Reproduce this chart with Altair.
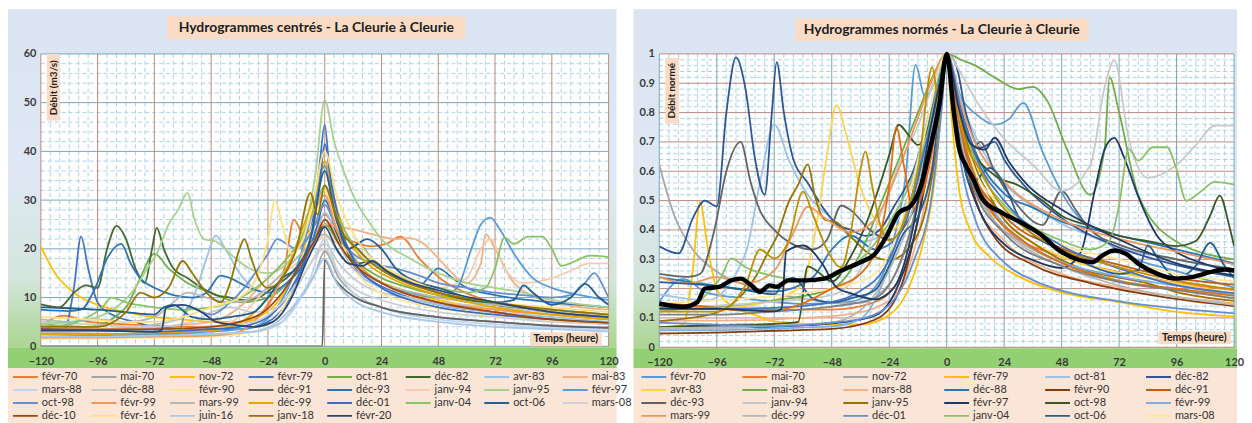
import altair as alt

FONT = "Lato"

# ---------------- tick labels / categories ----------------
HOUR_TICKS = [-120, -96, -72, -48, -24, 0, 24, 48, 72, 96, 120]
Q_TICKS = [0, 10, 20, 30, 40, 50, 60]
N_TICKS = [0, 0.1, 0.2, 0.3, 0.4, 0.5, 0.6, 0.7, 0.8, 0.9, 1]

NAMES = ["févr-70", "mai-70", "nov-72", "févr-79", "oct-81", "déc-82", "avr-83", "mai-83",
         "mars-88", "déc-88", "févr-90", "déc-91", "déc-93", "janv-94", "janv-95", "févr-97",
         "oct-98", "févr-99", "mars-99", "déc-99", "déc-01", "janv-04", "oct-06", "mars-08",
         "déc-10", "févr-16", "juin-16", "janv-18", "févr-20"]

COLORS_LEFT = ["#ED7D31", "#A5A5A5", "#FFC000", "#4472C4", "#70AD47", "#43682B", "#9DC3E6", "#F4B183",
               "#BDD7EE", "#C9C9C9", "#FFE699", "#636363", "#2E75B6", "#F8CBAD", "#A9D18E", "#5B9BD5",
               "#698ED0", "#F1975A", "#B7B7B7", "#E3A800", "#3C6BC0", "#8CC168", "#255E91", "#D0D0D0",
               "#9E480E", "#FFE07F", "#A9C8EB", "#997300", "#264478"]

COLORS_RIGHT = ["#5B9BD5", "#ED7D31", "#A5A5A5", "#FFC000", "#9DC3E6", "#2F5597", "#FFD34D", "#70AD47",
                "#F4B183", "#2E75B6", "#843C0C", "#C55A11", "#636363", "#C9C9C9", "#997300", "#1F3864",
                "#385723", "#7CAFDD", "#F1975A", "#B7B7B7", "#698ED0", "#8CC168", "#255E91", "#FFE699",
                "#4472C4", "#E46C0A", "#7F7F7F", "#BF9000", "#203864"]

# ---------------- hydrographs (hour, m3/s) ----------------
FEVR_70 = [[-120, 4.2], [-110, 6.3], [-100, 5.0], [-84, 4.5], [-60, 4.0], [-40, 4.2], [-30, 5.5], [-22, 10], [-17, 16], [-13, 26], [-9, 23], [-4, 25], [0, 27], [6, 23], [12, 21.5], [20, 20.5], [26, 21], [32, 22.5], [40, 18], [50, 13.5], [62, 10.5], [75, 8.5], [96, 7], [120, 5.5]]
MAI_70 = [[-120, 2.8], [-96, 2.6], [-72, 2.5], [-48, 2.5], [-30, 3], [-18, 5], [-10, 10], [-4, 15], [0, 19.5], [6, 14], [12, 11], [24, 8], [48, 6], [72, 5], [96, 4.3], [120, 3.8]]
NOV_72 = [[-120, 20.5], [-114, 15], [-106, 11], [-96, 8.5], [-84, 7], [-72, 6], [-60, 5.5], [-48, 5], [-36, 5], [-28, 6], [-20, 9], [-12, 16], [-6, 24], [-2, 30], [0, 33], [4, 27], [10, 20], [18, 15], [30, 12], [48, 9.5], [72, 7.5], [96, 6.5], [120, 5.5]]
FEVR_79 = [[-120, 3], [-110, 3.5], [-106, 12], [-103, 22.5], [-100, 16], [-96, 9], [-90, 6.5], [-80, 5], [-72, 4], [-48, 3.5], [-36, 3.5], [-24, 5], [-16, 9], [-10, 16], [-5, 26], [-2, 38], [0, 45.5], [2, 36], [5, 25], [10, 18], [18, 14], [30, 11], [48, 8.5], [72, 7], [96, 5.5], [120, 4.8]]
OCT_81 = [[-120, 4.5], [-100, 4], [-84, 8], [-78, 14], [-72, 19], [-66, 16], [-58, 13], [-48, 11], [-36, 9], [-24, 10], [-14, 14], [-6, 20], [0, 25], [6, 21], [12, 18], [24, 14], [36, 12], [48, 10.5], [60, 9.5], [72, 8.5], [96, 7.5], [120, 6.5]]
DEC_82 = [[-120, 8.6], [-112, 8], [-106, 11], [-101, 12.5], [-96, 12], [-92, 20], [-88, 24.7], [-84, 22], [-80, 16], [-76, 13], [-73, 20], [-71, 24.3], [-68, 20], [-64, 16], [-58, 14], [-52, 12], [-46, 10.5], [-40, 10], [-34, 9.5], [-28, 10], [-22, 12], [-14, 15], [-8, 19], [-3, 23], [0, 25], [4, 24], [8, 20], [14, 17], [20, 17.5], [24, 16], [36, 13], [48, 11], [72, 8.5], [96, 7], [120, 6]]
AVR_83 = [[-120, 3.5], [-96, 3.6], [-80, 4], [-66, 5], [-60, 6], [-54, 12], [-50, 18], [-46, 22.7], [-42, 20], [-36, 15], [-30, 12], [-24, 11], [-16, 13], [-8, 19], [-3, 24], [0, 27.5], [6, 21], [12, 16], [24, 12], [48, 8.5], [72, 7], [96, 6], [120, 5]]
MAI_83 = [[-120, 3.5], [-96, 3.5], [-72, 4], [-48, 5], [-36, 8], [-28, 12], [-20, 16], [-12, 20], [-6, 23], [0, 25], [6, 24.5], [12, 24], [20, 23], [30, 22], [36, 22.2], [42, 21], [50, 17], [60, 13], [66, 17], [68, 23], [72, 20], [80, 13], [96, 9], [120, 7.5]]
MARS_88 = [[-120, 2], [-96, 2], [-60, 2.2], [-40, 2.5], [-24, 3.5], [-14, 7], [-6, 14], [0, 22], [5, 16], [12, 11], [24, 8], [48, 5.5], [72, 4.5], [96, 3.8], [120, 3.3]]
DEC_88 = [[-120, 5], [-100, 4.5], [-72, 4], [-56, 5], [-48, 7], [-40, 8], [-30, 7], [-20, 8], [-12, 12], [-6, 17], [0, 21], [6, 17], [12, 14], [24, 11], [36, 10], [48, 9], [60, 8.5], [72, 8], [96, 7], [120, 6]]
FEVR_90 = [[-120, 1.5], [-96, 1.6], [-72, 1.8], [-48, 2], [-30, 3], [-20, 6], [-12, 14], [-5, 25], [0, 32], [4, 26], [10, 18], [20, 12], [36, 9], [60, 7], [90, 5.5], [120, 4.5]]
DEC_91 = [[-120, 0], [-60, 0], [-1, 0], [0, 17.8], [4, 14], [10, 11], [24, 8], [48, 6], [72, 5], [96, 4.2], [120, 3.8]]
DEC_93 = [[-120, 7.5], [-108, 7.2], [-103, 7.5], [-97, 12], [-92, 18], [-86, 21], [-82, 17], [-78, 14], [-72, 12], [-64, 10.5], [-56, 10], [-50, 11], [-44, 14.5], [-40, 14], [-32, 12], [-24, 11], [-16, 13], [-8, 18], [-3, 25], [0, 30], [5, 24], [10, 20], [14, 21], [20, 18], [28, 15], [40, 12.5], [48, 16], [54, 14], [60, 12], [72, 10.5], [96, 9], [120, 8]]
JANV_94 = [[-120, 3], [-96, 3.2], [-72, 3.5], [-48, 4], [-36, 6], [-28, 10], [-20, 14], [-12, 17], [-6, 20], [0, 22.5], [6, 21], [12, 19], [24, 16], [36, 14], [48, 12], [60, 14], [66, 20], [70, 22], [76, 16], [84, 13], [96, 14], [104, 15.5], [112, 17], [120, 17]]
JANV_95 = [[-120, 4.5], [-108, 5], [-96, 6], [-88, 8], [-80, 12], [-75, 16], [-71, 19], [-66, 25], [-62, 28], [-58, 31.5], [-55, 26], [-51, 22], [-46, 21.5], [-40, 19], [-32, 16], [-24, 15], [-16, 17], [-8, 25], [-4, 35], [0, 50.5], [4, 42], [8, 36], [13, 30], [18, 26], [24, 22], [36, 18], [48, 15], [60, 13], [72, 12], [84, 11], [96, 9.5], [120, 8]]
FEVR_97 = [[-120, 2.5], [-96, 2.5], [-72, 2.6], [-48, 3], [-30, 4], [-20, 8], [-12, 16], [-6, 26], [0, 37], [4, 28], [8, 22], [14, 17], [24, 13], [36, 11], [48, 10], [56, 12], [62, 20], [66, 25], [70, 26.4], [74, 24], [80, 19], [88, 14], [96, 12], [108, 10.5], [120, 9.5]]
OCT_98 = [[-120, 2], [-96, 2.2], [-72, 2.3], [-62, 2.5], [-58, 8], [-54, 7.5], [-48, 6.5], [-40, 9], [-34, 12], [-28, 16], [-24, 19], [-20, 22], [-16, 21], [-12, 20], [-6, 23], [0, 29], [5, 24], [10, 20], [20, 17], [30, 16], [40, 14.5], [48, 13], [60, 12], [72, 11], [84, 10.5], [96, 10], [104, 10.5], [110, 13], [114, 15], [118, 12], [120, 10]]
FEVR_99 = [[-120, 1.8], [-96, 1.8], [-72, 2], [-48, 2.2], [-36, 3], [-28, 6], [-20, 12], [-12, 20], [-6, 26], [0, 31], [5, 24], [12, 18], [24, 13], [36, 10.5], [48, 9], [72, 7.5], [96, 6.5], [120, 5.5]]
MARS_99 = [[-120, 5.5], [-108, 5], [-96, 5.5], [-84, 5], [-72, 6], [-64, 9], [-58, 11], [-50, 10], [-40, 9], [-30, 10], [-20, 14], [-12, 18], [-6, 21], [0, 23], [6, 19], [12, 16], [24, 13], [48, 10], [72, 8.5], [96, 7.5], [120, 6.5]]
DEC_99 = [[-120, 2.5], [-96, 2.5], [-72, 2.8], [-48, 3.2], [-40, 4], [-32, 6], [-24, 10], [-16, 16], [-8, 26], [-3, 33], [0, 38], [4, 30], [10, 22], [18, 17], [30, 13.5], [48, 10.5], [72, 8], [96, 6.5], [120, 5.5]]
DEC_01 = [[-120, 3.5], [-96, 3.2], [-72, 3], [-48, 3.5], [-36, 4], [-24, 6], [-14, 12], [-6, 22], [-2, 34], [0, 41.5], [3, 33], [7, 24], [12, 18], [24, 12], [36, 9.5], [48, 8], [72, 6.5], [96, 5.5], [120, 4.8]]
JANV_04 = [[-120, 4], [-108, 4.5], [-100, 6], [-94, 8], [-90, 10], [-84, 9], [-72, 8], [-60, 7.5], [-48, 8], [-40, 9], [-32, 11], [-24, 14], [-16, 18], [-8, 24], [-3, 30], [0, 33], [5, 27], [12, 21], [24, 16], [36, 13.5], [48, 12], [60, 11], [68, 12], [72, 16], [76, 22.3], [80, 21], [86, 22.5], [92, 22.5], [96, 20], [100, 16.5], [106, 17.5], [112, 18.6], [120, 18.3]]
OCT_06 = [[-120, 8], [-108, 7.8], [-96, 7.5], [-84, 7], [-72, 6.5], [-68, 8], [-64, 8.5], [-56, 6], [-48, 5.5], [-40, 6], [-30, 7], [-24, 10], [-18, 14], [-12, 16], [-6, 22], [0, 36], [4, 28], [10, 20], [18, 22], [24, 20], [30, 16], [40, 13], [48, 12], [60, 10], [72, 9], [80, 9.5], [84, 12.5], [88, 11], [96, 8.5], [104, 10], [110, 12.8], [116, 10], [120, 8.5]]
MARS_08 = [[-120, 3], [-96, 3.2], [-72, 3.5], [-48, 4], [-30, 5], [-20, 8], [-10, 14], [0, 20], [6, 15], [12, 12], [24, 9.5], [48, 7], [72, 6], [96, 5], [120, 4.5]]
DEC_10 = [[-120, 3.5], [-96, 3.4], [-72, 3.5], [-48, 4], [-36, 5], [-26, 7], [-18, 11], [-10, 17], [-4, 22], [0, 26], [6, 21], [12, 17], [24, 13], [48, 9], [72, 7], [96, 5.5], [120, 4.8]]
FEVR_16 = [[-120, 6], [-100, 5.5], [-84, 5], [-72, 5], [-60, 6], [-48, 8], [-36, 10], [-28, 15], [-24, 22], [-21, 30], [-18, 25], [-14, 19], [-10, 21], [-5, 29], [0, 40], [5, 31], [10, 25], [18, 19], [30, 15], [48, 11.5], [72, 9], [96, 8], [120, 7]]
JUIN_16 = [[-120, 2], [-96, 2], [-72, 2.2], [-48, 2.5], [-30, 3], [-20, 5], [-12, 9], [-5, 14], [0, 18], [5, 13], [12, 9.5], [24, 7], [48, 5], [72, 4], [96, 3.5], [120, 3]]
JANV_18 = [[-120, 4], [-96, 4], [-84, 7], [-78, 11], [-72, 10], [-66, 12], [-60, 17.5], [-56, 15], [-50, 11], [-44, 9], [-40, 13], [-36, 20], [-34, 22], [-31, 18], [-28, 14], [-24, 12], [-18, 14], [-12, 20], [-6, 31.5], [-3, 27], [0, 33], [4, 28], [8, 23], [14, 20], [20, 17], [30, 14], [48, 11], [72, 9], [96, 7.5], [120, 6.5]]
FEVR_20 = [[-120, 3.2], [-96, 3.2], [-72, 3], [-69, 3.2], [-67, 8], [-60, 8.5], [-52, 7], [-46, 5], [-40, 4.5], [-30, 4], [-22, 5], [-14, 10], [-8, 17], [-3, 22], [0, 24.5], [5, 20], [10, 17], [16, 16.5], [20, 17.5], [26, 15.5], [34, 13.5], [48, 11.5], [72, 9], [96, 7], [120, 6]]

SERIES = [FEVR_70, MAI_70, NOV_72, FEVR_79, OCT_81, DEC_82, AVR_83, MAI_83, MARS_88, DEC_88,
          FEVR_90, DEC_91, DEC_93, JANV_94, JANV_95, FEVR_97, OCT_98, FEVR_99, MARS_99, DEC_99,
          DEC_01, JANV_04, OCT_06, MARS_08, DEC_10, FEVR_16, JUIN_16, JANV_18, FEVR_20]

# mean normalised hydrograph (black line)
MEAN_T = [-120, -110, -104, -101, -95, -90, -86, -82, -78, -74, -71, -66, -59, -51, -44, -36, -30, -25, -20, -15, -11, -7, -3, 0, 3, 5, 8, 11, 15, 23, 31, 39, 47, 56, 61, 65, 70, 75, 80, 88, 96, 103, 110, 116, 120]
MEAN_Q = [0.149, 0.138, 0.155, 0.2, 0.206, 0.228, 0.234, 0.214, 0.189, 0.211, 0.206, 0.228, 0.228, 0.234, 0.262, 0.29, 0.318, 0.38, 0.459, 0.482, 0.544, 0.675, 0.83, 1.0, 0.8, 0.685, 0.62, 0.575, 0.504, 0.459, 0.425, 0.386, 0.33, 0.296, 0.29, 0.313, 0.33, 0.318, 0.285, 0.25, 0.234, 0.24, 0.256, 0.265, 0.262]

ROWS = [{"serie": n, "t": p[0], "q": p[1]} for n, s in zip(NAMES, SERIES) for p in s]
MEAN_ROWS = [{"t": t, "m": m} for t, m in zip(MEAN_T, MEAN_Q)]

# ---------------- layout / styling ----------------
W1, H1 = 571, 294
W2, H2 = 578, 295
TOP = 45
GRID_MINOR = "#a9d3e8"
RED_GRID = "#b98a80"
TEAL_GRID = "#7aa7b9"
BG_STOPS = [alt.GradientStop(color="#dae4f2", offset=0),
            alt.GradientStop(color="#dfe8f4", offset=0.5),
            alt.GradientStop(color="#d3e5dc", offset=0.8),
            alt.GradientStop(color="#abd690", offset=1)]
GREEN = "#93cf73"
PEACH = "#fbe5d6"
TITLE_PEACH = "#fadcc6"

XS = alt.Scale(domain=[-120, 120], nice=False, zero=False)
YS1 = alt.Scale(domain=[0, 60], nice=False)
YS2 = alt.Scale(domain=[0, 1], nice=False)


def x_axis():
    return alt.Axis(values=HOUR_TICKS, title=None, grid=False, domain=False, ticks=False, tickSize=0,
                    labelPadding=9, labelFont=FONT, labelFontSize=11, labelFontWeight="bold",
                    labelColor="#3a3a3a", labelFlush=False, labelOverlap=False, zindex=1)


def y_axis(vals, fmt):
    return alt.Axis(values=vals, title=None, grid=False, domain=False, ticks=False, tickSize=0,
                    labelPadding=5, labelFont=FONT, labelFontSize=11, labelFontWeight="bold",
                    labelColor="#3a3a3a", labelFlush=False, labelOverlap=False, format=fmt, zindex=1)


AX_Y1 = y_axis(Q_TICKS, "d")
AX_Y2 = y_axis(N_TICKS, "~g")


def one():
    return alt.Data(values=[{"k": 1}])


def box(x0, x1, y0, y1, fill, **kw):
    return alt.Chart(one()).mark_rect(fill=fill, **kw).encode(
        x=alt.value(x0), x2=alt.value(x1), y=alt.value(y0), y2=alt.value(y1))


def label(txt, x, y, size, angle=0):
    return alt.Chart(one()).mark_text(
        text=txt, font=FONT, fontSize=size, fontWeight="bold", color="#1e1e1e",
        angle=angle, align="center", baseline="middle").encode(x=alt.value(x), y=alt.value(y))


def vrules(vals, color, dashed=False):
    kw = {"strokeDash": [4, 3]} if dashed else {}
    return alt.Chart(alt.Data(values=[{"t": v} for v in vals])).mark_rule(
        color=color, strokeWidth=1, **kw).encode(x=alt.X("t:Q", scale=XS, axis=x_axis()))


def hrules(vals, color, yscale, yaxis, dashed=False):
    kw = {"strokeDash": [4, 3]} if dashed else {}
    return alt.Chart(alt.Data(values=[{"q": v} for v in vals])).mark_rule(
        color=color, strokeWidth=1, **kw).encode(y=alt.Y("q:Q", scale=yscale, axis=yaxis))


def legend(x, y, cols, colpad, values):
    return alt.Legend(orient="none", legendX=x, legendY=y, columns=cols, direction="horizontal",
                      symbolType="stroke", symbolSize=625, symbolStrokeWidth=2, clipHeight=13,
                      rowPadding=0, columnPadding=colpad, gridAlign="all", labelFont=FONT,
                      labelFontSize=11, labelColor="#333333", labelOffset=3, padding=0,
                      labelLimit=90, values=values)


# ---------------- left panel: centred hydrographs ----------------
minor_x = [v for v in range(-120, 121, 4) if v % 24 != 0]
minor_y1 = [v for v in range(0, 61, 2) if v % 10 != 0]

lines_left = alt.Chart(alt.Data(values=ROWS)).mark_line(
    strokeWidth=1.8, interpolate="monotone", clip=True).encode(
    x=alt.X("t:Q", scale=XS, axis=x_axis()),
    y=alt.Y("q:Q", scale=YS1, axis=AX_Y1),
    color=alt.Color("serie:N", title=None, scale=alt.Scale(domain=NAMES, range=COLORS_LEFT),
                    legend=legend(-29, H1 + 24.5, 8, 8, NAMES)),
)

left = alt.layer(
    box(-33, W1 + 8, -TOP, H1 + 1, alt.LinearGradient(gradient="linear", stops=BG_STOPS, x1=0, x2=0, y1=0, y2=1)),
    box(-33, W1 + 8, H1 + 1, H1 + 22, GREEN),
    box(-33, W1 + 8, H1 + 22, H1 + 80, PEACH),
    box(0, W1, 0, H1, "#ffffff"),
    vrules(minor_x, GRID_MINOR, True),
    hrules(minor_y1, GRID_MINOR, YS1, AX_Y1, True),
    vrules(HOUR_TICKS, RED_GRID),
    hrules(Q_TICKS, TEAL_GRID, YS1, AX_Y1),
    lines_left,
    box(127, 427, -38, -15, TITLE_PEACH),
    label("Hydrogrammes centrés - La Cleurie à Cleurie", 277, -26, 14),
    box(6, 19, 0, 67, TITLE_PEACH),
    label("Débit (m3/s)", 13, 34, 10, 270),
    box(492, 564, 280, 294, TITLE_PEACH),
    label("Temps (heure)", 528, 287, 10.5),
).properties(width=W1, height=H1)

# ---------------- right panel: normalised hydrographs ----------------
minor_y2 = [i / 50 for i in range(51) if i % 5 != 0]

lines_right = alt.Chart(alt.Data(values=ROWS)).transform_filter(
    "datum.q > 0").transform_joinaggregate(
    qmax="max(q)", groupby=["serie"]).transform_calculate(
    qn="datum.q / datum.qmax").mark_line(
    strokeWidth=1.8, interpolate="monotone", clip=True).encode(
    x=alt.X("t:Q", scale=XS, axis=x_axis()),
    y=alt.Y("qn:Q", scale=YS2, axis=AX_Y2),
    color=alt.Color("serie:N", title=None, scale=alt.Scale(domain=NAMES, range=COLORS_RIGHT),
                    legend=legend(-19, H2 + 23.5, 6, 30.5, NAMES[:24])),
)

mean_line = alt.Chart(alt.Data(values=MEAN_ROWS)).mark_line(
    color="#000000", strokeWidth=4.5, interpolate="monotone").encode(
    x=alt.X("t:Q", scale=XS, axis=x_axis()),
    y=alt.Y("m:Q", scale=YS2, axis=AX_Y2),
)

right = alt.layer(
    box(-26, W2 + 3, -TOP, H2 + 1, alt.LinearGradient(gradient="linear", stops=BG_STOPS, x1=0, x2=0, y1=0, y2=1)),
    box(-26, W2 + 3, H2 + 1, H2 + 21, GREEN),
    box(-26, W2 + 3, H2 + 21, H2 + 80, PEACH),
    box(0, W2, 0, H2, "#ffffff"),
    vrules(minor_x, GRID_MINOR, True),
    hrules(minor_y2, GRID_MINOR, YS2, AX_Y2, True),
    vrules(HOUR_TICKS, TEAL_GRID),
    hrules(N_TICKS, RED_GRID, YS2, AX_Y2),
    lines_right,
    mean_line,
    box(137, 432, -36, -13, TITLE_PEACH),
    label("Hydrogrammes normés - La Cleurie à Cleurie", 284, -24, 14),
    box(6, 20, 4, 70, TITLE_PEACH),
    label("Débit normé", 13, 37, 10, 270),
    box(502, 575, 279, 292, TITLE_PEACH),
    label("Temps (heure)", 538, 285.5, 10.5),
).properties(width=W2, height=H2)

chart = alt.hconcat(left, right, spacing=1, padding=0, background="#ffffff").resolve_scale(
    color="independent").configure_view(strokeWidth=0)

chart.save("out.html", embed_options={"renderer": "svg", "actions": False})
